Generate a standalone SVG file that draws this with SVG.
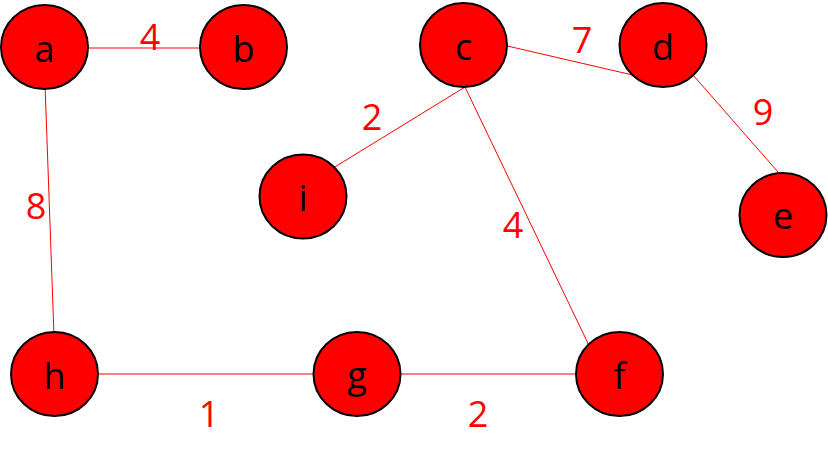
<svg xmlns="http://www.w3.org/2000/svg" width="828" height="459" viewBox="0 0 828 459">
<style>
.edge{stroke:#ff0000;stroke-width:1;fill:none}
.node ellipse{fill:#ff0000;stroke:#000;stroke-width:2}
.node text{font-family:"Open Sans","Noto Sans",sans-serif;font-size:36px;fill:#000;text-anchor:middle}
.lbl{font-family:"Open Sans","Noto Sans",sans-serif;font-size:36px;fill:#ff0000;text-anchor:middle}
</style>
<rect width="828" height="459" fill="#fff"/>
<g id="edges">
<line class="edge" x1="60" y1="48" x2="230" y2="48"/>
<line class="edge" x1="44.5" y1="70" x2="54.5" y2="350"/>
<line class="edge" x1="490" y1="42" x2="650" y2="79"/>
<line class="edge" x1="465" y1="87" x2="325" y2="173"/>
<line class="edge" x1="465" y1="87" x2="595" y2="358"/>
<line class="edge" x1="686" y1="67" x2="785" y2="180"/>
<line class="edge" x1="80" y1="374" x2="330" y2="374"/>
<line class="edge" x1="380" y1="374" x2="600" y2="374"/>
</g>
<g id="labels">
<text class="lbl" x="150" y="50">4</text>
<text class="lbl" x="582" y="53">7</text>
<text class="lbl" x="372" y="130">2</text>
<text class="lbl" x="763" y="125">9</text>
<text class="lbl" x="36" y="219">8</text>
<text class="lbl" x="513" y="238">4</text>
<text class="lbl" x="209" y="427">1</text>
<text class="lbl" x="478" y="427">2</text>
</g>
<g id="node-a" class="node"><ellipse cx="44.5" cy="47" rx="43.5" ry="42"/><text x="44.5" y="62">a</text></g>
<g id="node-b" class="node"><ellipse cx="243.5" cy="47" rx="43.5" ry="42"/><text x="243.5" y="62">b</text></g>
<g id="node-c" class="node"><ellipse cx="463.5" cy="45" rx="43.5" ry="42"/><text x="463.5" y="60">c</text></g>
<g id="node-d" class="node"><ellipse cx="663" cy="45" rx="43.5" ry="42"/><text x="663" y="60">d</text></g>
<g id="node-i" class="node"><ellipse cx="303" cy="196.5" rx="43.5" ry="42"/><text x="303" y="211">i</text></g>
<g id="node-e" class="node"><ellipse cx="783" cy="215" rx="43.5" ry="42"/><text x="783" y="229">e</text></g>
<g id="node-h" class="node"><ellipse cx="54.5" cy="374" rx="43.5" ry="42"/><text x="54.5" y="389">h</text></g>
<g id="node-g" class="node"><ellipse cx="357" cy="374" rx="43.5" ry="42"/><text x="357" y="388">g</text></g>
<g id="node-f" class="node"><ellipse cx="619.5" cy="374" rx="43.5" ry="42"/><text x="619.5" y="389">f</text></g>
</svg>
